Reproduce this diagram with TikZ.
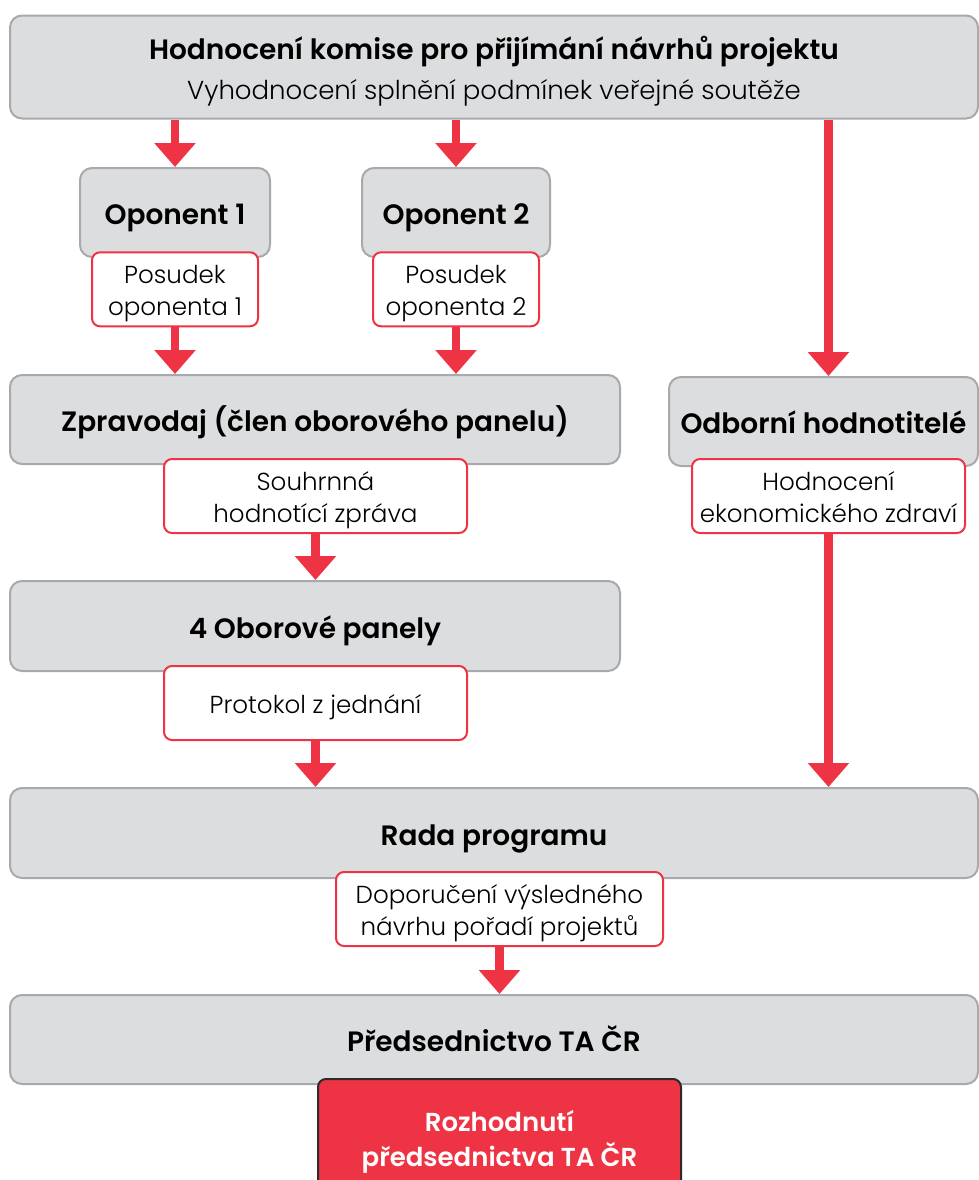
\documentclass[tikz,border=0pt]{standalone}
\usepackage{fontspec}
\setmainfont{Poppins}[UprightFont=* Light, BoldFont=* SemiBold]
\usetikzlibrary{arrows.meta}
\definecolor{boxgray}{HTML}{DCDDDF}
\definecolor{boxline}{HTML}{A7A9AC}
\definecolor{tared}{HTML}{EE3444}
\definecolor{darkline}{HTML}{2B2B2B}
% lines with fixed height/depth so accents do not shift the text
\newcommand\boldln[1]{\smash{#1}\rule[-2.7pt]{0pt}{17.7pt}}
\newcommand\redln[1]{\smash{#1}\rule[-1.8pt]{0pt}{13.8pt}}
\newcommand\decln[1]{\smash{#1}\rule[-2.5pt]{0pt}{16.5pt}}
\begin{document}
\begin{tikzpicture}[x=0.5pt,y=-0.5pt,
  graybox/.style={draw=boxline, fill=boxgray, line width=1pt, rounded corners=6pt,
    inner sep=0pt, align=center, font=\bfseries\fontsize{14}{20}\selectfont},
  redbox/.style={draw=tared, fill=white, line width=1pt, rounded corners=4pt,
    inner sep=0pt, align=center, font=\fontsize{12.3}{16}\selectfont},
  decisionbox/.style={draw=darkline, fill=tared, line width=1pt, rounded corners=4pt,
    inner sep=0pt, align=center, text=white, font=\bfseries\fontsize{13}{17.5}\selectfont},
  arr/.style={draw=tared, line width=4.3pt, -{Triangle[width=20pt,length=12pt]}}
]
\clip (0,0) rectangle (979,1180);
% gray boxes
\node[graybox, minimum width=484pt, minimum height=51.5pt] (top) at (494,67)
  {\boldln{Hodnocení komise pro přijímání návrhů projektu}\\\boldln{\mdseries\fontsize{13}{20}\selectfont Vyhodnocení splnění podmínek veřejné soutěže}};
\node[graybox, minimum width=95pt, minimum height=44.5pt] (op1) at (175,212.5) {\boldln{Oponent 1}};
\node[graybox, minimum width=94pt, minimum height=44.5pt] (op2) at (456,212.5) {\boldln{Oponent 2}};
\node[graybox, minimum width=305pt, minimum height=44.5pt] (zprav) at (315,419.5) {\boldln{Zpravodaj (člen oborového panelu)}};
\node[graybox, minimum width=154.5pt, minimum height=44.5pt] (odb) at (823.5,421.5) {\boldln{Odborní hodnotitelé}};
\node[graybox, minimum width=305pt, minimum height=45pt] (obor) at (315,626) {\boldln{4 Oborové panely}};
\node[graybox, minimum width=484pt, minimum height=45pt] (rada) at (494,833) {\boldln{Rada programu}};
\node[graybox, minimum width=484pt, minimum height=44.5pt] (preds) at (494,1039.5) {\boldln{Předsednictvo TA ČR}};
% red-outlined boxes
\node[redbox, minimum width=83pt, minimum height=37pt] (pos1) at (175,289.3) {\redln{Posudek}\\\redln{oponenta 1}};
\node[redbox, minimum width=83pt, minimum height=37pt] (pos2) at (456,289.3) {\redln{Posudek}\\\redln{oponenta 2}};
\node[redbox, minimum width=151.5pt, minimum height=37pt] (souhr) at (315.5,496) {\redln{Souhrnná}\\\redln{hodnotící zpráva}};
\node[redbox, minimum width=136.5pt, minimum height=37pt] (hodn) at (828.5,496) {\redln{Hodnocení}\\\redln{ekonomického zdraví}};
\node[redbox, minimum width=151.5pt, minimum height=37pt] (prot) at (315.5,703) {\redln{Protokol z jednání}};
\node[redbox, minimum width=163.5pt, minimum height=37pt] (dopor) at (499.5,909) {\redln{Doporučení výsledného}\\\redln{návrhu pořadí projektů}};
\node[decisionbox, minimum width=181.5pt, minimum height=58pt] (rozh) at (499.5,1137) {\decln{Rozhodnutí}\\\decln{předsednictva TA ČR}};
% arrows
\draw[arr] (top.south -| op1) -- (op1.north);
\draw[arr] (top.south -| op2) -- (op2.north);
\draw[arr] (top.south -| hodn) -- (odb.north -| hodn);
\draw[arr] (pos1.south) -- (zprav.north -| pos1);
\draw[arr] (pos2.south) -- (zprav.north -| pos2);
\draw[arr] (souhr.south) -- (obor.north -| souhr);
\draw[arr] (prot.south) -- (rada.north -| prot);
\draw[arr] (hodn.south) -- (rada.north -| hodn);
\draw[arr] (dopor.south) -- (preds.north -| dopor);
\end{tikzpicture}
\end{document}
